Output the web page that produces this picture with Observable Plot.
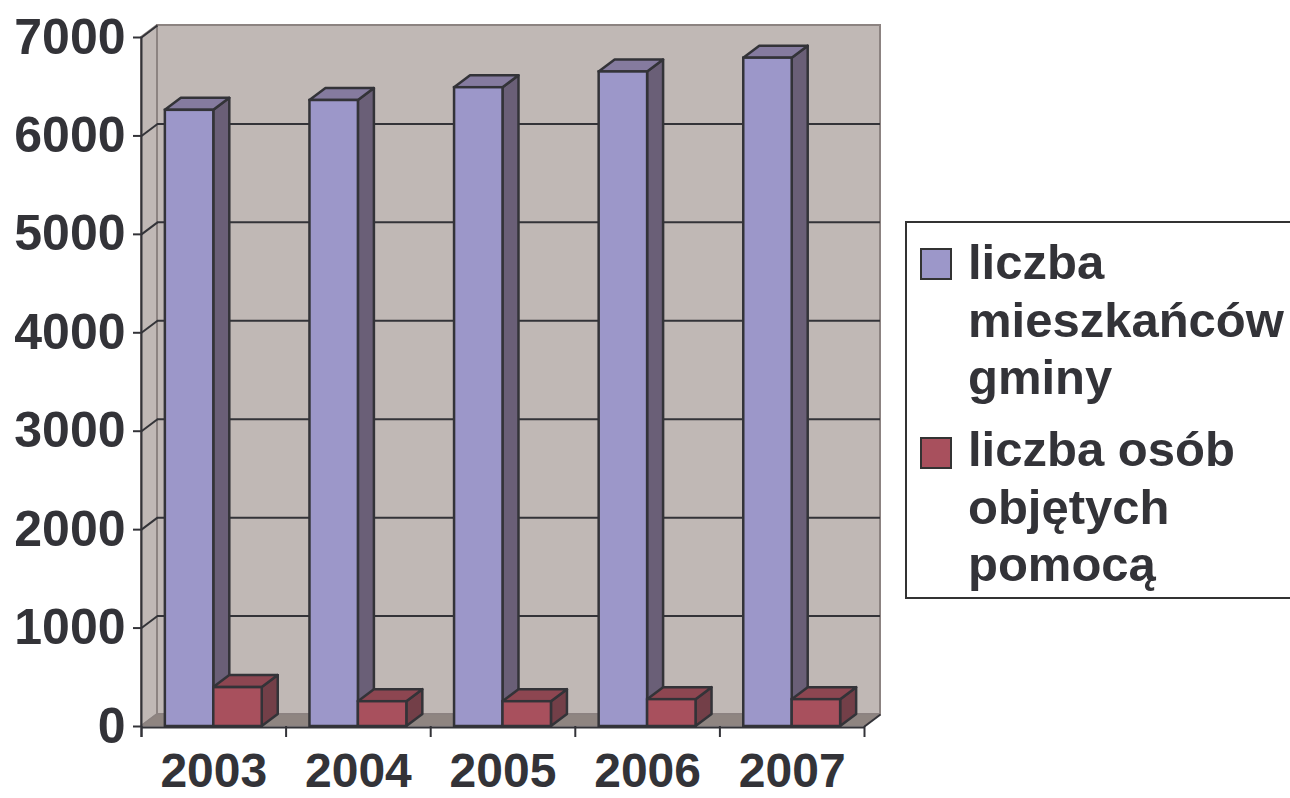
<!DOCTYPE html>
<html>
<head>
<meta charset="utf-8">
<script src="https://cdn.jsdelivr.net/npm/d3@7"></script>
<script src="https://cdn.jsdelivr.net/npm/@observablehq/plot@0.6"></script>
<style>
  html, body { margin: 0; padding: 0; background: #fff; overflow: hidden; }
  #wrap { position: relative; width: 1290px; height: 798px; }
  #legend {
    position: absolute; left: 905px; top: 221px; width: 420px; height: 378px;
    border: 2px solid #333; box-sizing: border-box; background: #fff;
    font-family: "Liberation Sans", Arial, sans-serif; font-weight: bold;
    font-size: 49px; color: #333338;
  }
  .sw { position: absolute; left: 13px; width: 28px; height: 28px; border: 2px solid #333; }
  .grp { position: absolute; left: 61px; line-height: 57.5px; white-space: nowrap; }
</style>
</head>
<body>
<div id="wrap"></div>
<script>
// ---- data ----
const years = ["2003", "2004", "2005", "2006", "2007"];
const residents = [6260, 6360, 6490, 6650, 6790];   // liczba mieszkańców gminy
const assisted  = [395, 252, 252, 273, 273];        // liczba osób objętych pomocą
const yTicks = [0, 1000, 2000, 3000, 4000, 5000, 6000, 7000];
const seriesNames = ["liczba mieszkańców gminy", "liczba osób objętych pomocą"];

// ---- layout ----
const W = 1290, H = 798;
const mL = 141, mR = W - 864, mT = 37, mB = H - 726;
const kx = years.length / (W - mL - mR);     // data units per px (x)
const ky = 7000 / (H - mT - mB);             // data units per px (y)
const DX = 16 * kx, DY = 12 * ky;            // 3D depth offset
const N = years.length;

const colors = {
  wall: "#c0b8b5", wallEdge: "#8c8381", floor: "#8f8581",
  ink: "#333338",
  purple: {front: "#9c97c9", top: "#857b9f", side: "#6a5f77"},
  red: {front: "#a8505d", top: "#8d4651", side: "#733f48"}
};

// bar geometry (fractions of a category slot)
const series = [
  {values: residents, a: 0.165, b: 0.5, c: colors.purple},
  {values: assisted,  a: 0.5,   b: 0.835, c: colors.red}
];

const marks = [];
// back wall
marks.push(Plot.rect([0], {x1: DX, x2: N + DX, y1: DY, y2: 7000 + DY, fill: colors.wall, stroke: colors.wallEdge, strokeWidth: 2}));
// left wall
marks.push(Plot.areaY([{x: 0, y1: 0, y2: 7000}, {x: DX, y1: DY, y2: 7000 + DY}],
  {x: "x", y1: "y1", y2: "y2", fill: colors.wall, stroke: colors.wallEdge, strokeWidth: 2}));
// floor
marks.push(Plot.areaX([{y: 0, x1: 0, x2: N}, {y: DY, x1: DX, x2: N + DX}],
  {y: "y", x1: "x1", x2: "x2", fill: colors.floor, stroke: colors.wallEdge, strokeWidth: 1.5}));
// gridlines on back wall and diagonals on left wall
const grid = yTicks.filter(d => d > 0 && d < 7000);
marks.push(Plot.ruleY(grid, {y: d => d + DY, x1: DX, x2: N + DX, stroke: colors.ink, strokeWidth: 2}));
marks.push(Plot.link(yTicks.filter(d => d > 0), {x1: 0, y1: d => d, x2: DX, y2: d => d + DY, stroke: colors.ink, strokeWidth: 2}));
marks.push(Plot.link([0], {x1: N, y1: 0, x2: N + DX, y2: DY, stroke: colors.ink, strokeWidth: 2}));

// bars
for (const s of series) {
  const fronts = s.values.map((v, i) => ({x1: i + s.a, x2: i + s.b, v}));
  const sides = [], tops = [];
  s.values.forEach((v, i) => {
    const xL = i + s.a, xR = i + s.b;
    sides.push({x: xR, y1: 0, y2: v, z: i}, {x: xR + DX, y1: DY, y2: v + DY, z: i});
    tops.push({y: v, x1: xL, x2: xR, z: i}, {y: v + DY, x1: xL + DX, x2: xR + DX, z: i});
  });
  marks.push(Plot.areaY(sides, {x: "x", y1: "y1", y2: "y2", z: "z", fill: s.c.side, stroke: colors.ink, strokeWidth: 2.5, strokeLinejoin: "round"}));
  marks.push(Plot.areaX(tops, {y: "y", x1: "x1", x2: "x2", z: "z", fill: s.c.top, stroke: colors.ink, strokeWidth: 2.5, strokeLinejoin: "round"}));
  marks.push(Plot.rect(fronts, {x1: "x1", x2: "x2", y1: 0, y2: "v", fill: s.c.front, stroke: colors.ink, strokeWidth: 2.5}));
}

// axes
marks.push(Plot.ruleX([0], {y1: -11 * ky, y2: 7000, stroke: colors.ink, strokeWidth: 2}));
marks.push(Plot.ruleY([0], {x1: 0, x2: N, stroke: colors.ink, strokeWidth: 2, dy: 1}));
marks.push(Plot.ruleY(yTicks, {x1: -8 * kx, x2: 0, stroke: colors.ink, strokeWidth: 2}));
marks.push(Plot.ruleX(d3.range(N + 1), {y1: -11 * ky, y2: 0, stroke: colors.ink, strokeWidth: 2}));
marks.push(Plot.text(yTicks, {x: 0, y: d => d, text: d => String(d), textAnchor: "end", dx: -16,
  fontSize: 50, fontWeight: "bold", fill: colors.ink}));
marks.push(Plot.text(years, {x: (d, i) => i + 0.5, y: 0, text: d => d, dy: 45,
  fontSize: 48, fontWeight: "bold", fill: colors.ink}));

const chart = Plot.plot({
  width: W, height: H,
  marginLeft: mL, marginRight: mR, marginTop: mT, marginBottom: mB,
  x: {type: "linear", domain: [0, N], axis: null},
  y: {type: "linear", domain: [0, 7000], axis: null},
  style: {fontFamily: "'Liberation Sans', Arial, sans-serif", background: "#fff", overflow: "visible"},
  marks
});
const wrap = document.getElementById("wrap");
wrap.appendChild(chart);

// legend (HTML)
const legend = document.createElement("div");
legend.id = "legend";
const groups = [
  {lines: ["liczba", "mieszkańców", "gminy"], color: colors.purple.front, top: 11, swTop: 25},
  {lines: ["liczba osób", "objętych", "pomocą"], color: colors.red.front, top: 198, swTop: 214}
];
groups.forEach((g, gi) => {
  const sw = document.createElement("div");
  sw.className = "sw"; sw.style.top = g.swTop + "px"; sw.style.background = g.color;
  sw.title = seriesNames[gi];
  legend.appendChild(sw);
  const t = document.createElement("div");
  t.className = "grp"; t.style.top = g.top + "px";
  t.innerHTML = g.lines.join("<br>");
  legend.appendChild(t);
});
wrap.appendChild(legend);
</script>
</body>
</html>
